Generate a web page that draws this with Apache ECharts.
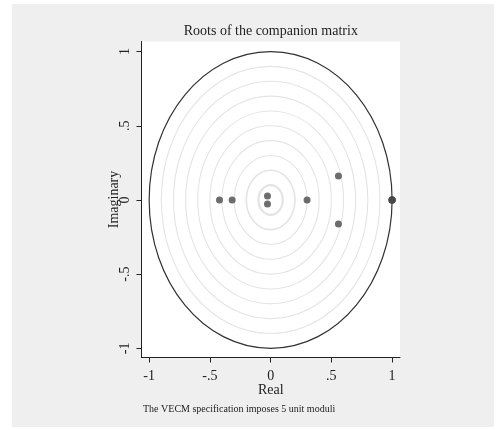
<!DOCTYPE html>
<html>
<head>
<meta charset="utf-8">
<script src="https://cdn.jsdelivr.net/npm/echarts@6/dist/echarts.min.js"></script>
<style>
  html, body { margin: 0; padding: 0; background: #ffffff; }
  #chart { width: 501px; height: 430px; }
</style>
</head>
<body>
<div id="chart"></div>
<script>
// Eigenvalues of the companion matrix (real and imaginary parts)
const rootReal = [1, 1, 1, 1, 1, 0.558, 0.558, 0.300, -0.026, -0.026, -0.317, -0.421];
const rootImag = [0, 0, 0, 0, 0, 0.162, -0.162, 0, 0.027, -0.027, 0, 0];

// Reference circles: faint grid rings and the unit circle
const gridRadii = [0.1, 0.2, 0.3, 0.4, 0.5, 0.6, 0.7, 0.8, 0.9];
const unitRadius = [1];

// Axis ticks and their labels
const xTickValues = [-1, -0.5, 0, 0.5, 1];
const xTickLabels = ['-1', '-.5', '0', '.5', '1'];
const yTickValues = [-1, -0.5, 0, 0.5, 1];
const yTickLabels = ['-1', '-.5', '0', '.5', '1'];

const titleText = 'Roots of the companion matrix';
const noteText = 'The VECM specification imposes 5 unit moduli';
const xName = 'Real';
const yName = 'Imaginary';

const SERIF = '"Liberation Serif", "DejaVu Serif", serif';

function labelFor(values, labels) {
  return function (v) {
    for (let i = 0; i < values.length; i++) {
      if (Math.abs(values[i] - v) < 1e-9) return labels[i];
    }
    return '';
  };
}

function ringRenderer(stroke, widthFor) {
  return function (params, api) {
    const r = api.value(0);
    const c = api.coord([0, 0]);
    const s = api.size([r, r]);
    return {
      type: 'ellipse',
      silent: true,
      shape: { cx: c[0], cy: c[1], rx: s[0], ry: s[1] },
      style: { fill: 'transparent', stroke: stroke, lineWidth: widthFor(r) }
    };
  };
}

const chart = echarts.init(document.getElementById('chart'), null, { renderer: 'canvas' });

const axisCommon = {
  type: 'value',
  splitLine: { show: false },
  axisLine: { show: true, onZero: false, lineStyle: { color: '#222', width: 1 } },
  axisTick: { show: true, inside: false, length: 5, lineStyle: { color: '#222', width: 1 } },
  nameLocation: 'middle',
  nameMoveOverlap: false,
  nameTextStyle: { fontFamily: SERIF, fontSize: 14, color: '#222' }
};

chart.setOption({
  animation: false,
  backgroundColor: '#ffffff',
  graphic: [
    {
      type: 'rect', z: -100, silent: true,
      shape: { x: 12, y: 4, width: 482, height: 423 },
      style: { fill: '#efefef' }
    },
    {
      type: 'text', x: 270.8, y: 31, silent: true,
      style: {
        text: titleText, align: 'center', verticalAlign: 'middle',
        fontFamily: SERIF, fontSize: 14, fill: '#222'
      }
    },
    {
      type: 'text', x: 143, y: 409, silent: true,
      style: {
        text: noteText, align: 'left', verticalAlign: 'middle',
        fontFamily: SERIF, fontSize: 10, fill: '#222'
      }
    }
  ],
  grid: {
    left: 141.5, top: 41.5, width: 258.5, height: 316,
    show: true, backgroundColor: '#ffffff', borderWidth: 0,
    containLabel: false
  },
  xAxis: Object.assign({}, axisCommon, {
    min: -1.063, max: 1.065,
    name: xName, nameGap: 26,
    axisTick: Object.assign({}, axisCommon.axisTick, { customValues: xTickValues }),
    axisLabel: {
      customValues: xTickValues,
      formatter: labelFor(xTickValues, xTickLabels),
      margin: 12,
      fontFamily: SERIF, fontSize: 14, color: '#222'
    }
  }),
  yAxis: Object.assign({}, axisCommon, {
    min: -1.062, max: 1.068,
    name: yName, nameGap: 20,
    axisTick: Object.assign({}, axisCommon.axisTick, { customValues: yTickValues }),
    axisLabel: {
      customValues: yTickValues,
      formatter: labelFor(yTickValues, yTickLabels),
      rotate: 90,
      margin: 9,
      fontFamily: SERIF, fontSize: 14, color: '#222'
    }
  }),
  series: [
    {
      type: 'custom',
      coordinateSystem: 'cartesian2d',
      data: gridRadii.map(function (r) { return [r, 0]; }),
      encode: { x: 0, y: 1 },
      renderItem: ringRenderer('#e4e4e4', function (r) { return r < 0.15 ? 2.2 : (r < 0.25 ? 1.6 : 1.1); }),
      z: 1
    },
    {
      type: 'custom',
      coordinateSystem: 'cartesian2d',
      data: unitRadius.map(function (r) { return [r, 0]; }),
      encode: { x: 0, y: 1 },
      renderItem: ringRenderer('#333333', function () { return 1.2; }),
      z: 2
    },
    {
      type: 'scatter',
      symbol: 'circle',
      symbolSize: 7,
      itemStyle: { color: '#484848' },
      data: rootReal.map(function (x, i) { return [x, rootImag[i]]; }),
      z: 3
    }
  ]
});
</script>
</body>
</html>
